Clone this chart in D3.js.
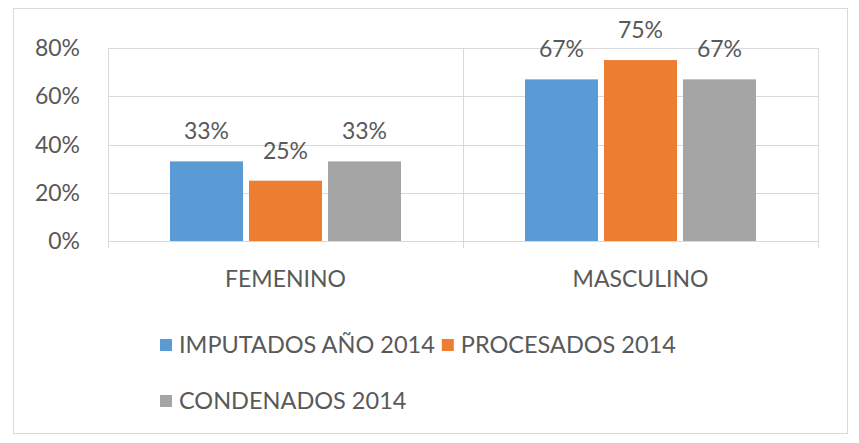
<!DOCTYPE html>
<html>
<head>
<meta charset="utf-8">
<script src="https://cdn.jsdelivr.net/npm/d3@7"></script>
<style>
  body { margin: 0; background: #fff; }
  text { font-family: Lato, "Open Sans", sans-serif; fill: #595959; }
</style>
</head>
<body>
<div id="chart"></div>
<script>
var categories = ["FEMENINO", "MASCULINO"];
var seriesNames = ["IMPUTADOS AÑO 2014", "PROCESADOS 2014", "CONDENADOS 2014"];
var imputados = [33, 67];
var procesados = [25, 75];
var condenados = [33, 67];
var yTicks = [0, 20, 40, 60, 80];
var colors = ["#5b9bd5", "#ed7d31", "#a5a5a5"];

var seriesValues = [imputados, procesados, condenados];

var width = 859, height = 443;
var fontSize = 23;

var svg = d3.select("#chart")
  .append("svg")
    .attr("width", width)
    .attr("height", height);

// outer frame
svg.append("rect")
  .attr("x", 13.5).attr("y", 8.5)
  .attr("width", 834).attr("height", 425)
  .attr("fill", "#fff")
  .attr("stroke", "#d9d9d9");

var x0 = d3.scaleBand().domain(categories).range([108, 818]);
var groupWidth = 231;
var x1 = d3.scaleBand().domain(seriesNames).range([0, groupWidth]).paddingInner(0.076);
var y = d3.scaleLinear().domain([0, 80]).range([241, 48]);

// horizontal grid
svg.selectAll(".hgrid")
  .data(yTicks)
  .enter().append("line")
    .attr("x1", 108).attr("x2", 818)
    .attr("y1", function(d){ return Math.round(y(d)) + 0.5; })
    .attr("y2", function(d){ return Math.round(y(d)) + 0.5; })
    .attr("stroke", "#d9d9d9");

// vertical grid at category borders
var borders = categories.map(function(c){ return x0(c); }).concat([818]);
svg.selectAll(".vgrid")
  .data(borders)
  .enter().append("line")
    .attr("x1", function(d){ return Math.round(d) + 0.5; })
    .attr("x2", function(d){ return Math.round(d) + 0.5; })
    .attr("y1", y(80)).attr("y2", y(0) + 7)
    .attr("stroke", "#d9d9d9");

// y tick labels
svg.selectAll(".ytick")
  .data(yTicks)
  .enter().append("text")
    .attr("x", 80)
    .attr("y", function(d){ return y(d) + 8; })
    .attr("text-anchor", "end")
    .style("font-size", fontSize + "px")
    .text(function(d){ return d + "%"; });

// bars
var groups = svg.selectAll(".group")
  .data(categories)
  .enter().append("g")
    .attr("transform", function(c){ return "translate(" + (x0(c) + (x0.bandwidth() - groupWidth) / 2) + ",0)"; });

groups.selectAll("rect")
  .data(function(c, ci){ return seriesNames.map(function(s, si){ return {s: s, si: si, v: seriesValues[si][ci]}; }); })
  .enter().append("rect")
    .attr("x", function(d){ return x1(d.s); })
    .attr("y", function(d){ return y(d.v); })
    .attr("width", x1.bandwidth())
    .attr("height", function(d){ return y(0) - y(d.v); })
    .attr("fill", function(d){ return colors[d.si]; });

groups.selectAll(".lbl")
  .data(function(c, ci){ return seriesNames.map(function(s, si){ return {s: s, si: si, v: seriesValues[si][ci]}; }); })
  .enter().append("text")
    .attr("x", function(d){ return x1(d.s) + x1.bandwidth() / 2; })
    .attr("y", function(d){ return y(d.v) - 22; })
    .attr("text-anchor", "middle")
    .style("font-size", fontSize + "px")
    .text(function(d){ return d.v + "%"; });

// category labels
svg.selectAll(".cat")
  .data(categories)
  .enter().append("text")
    .attr("x", function(c){ return x0(c) + x0.bandwidth() / 2; })
    .attr("y", 287)
    .attr("text-anchor", "middle")
    .style("font-size", fontSize + "px")
    .text(function(c){ return c; });

// legend
var legendRows = [[0, 1], [2]];
var rowY = [345, 401];
legendRows.forEach(function(row, ri){
  var lx = 160;
  row.forEach(function(si){
    svg.append("rect")
      .attr("x", lx).attr("y", rowY[ri] - 6)
      .attr("width", 12).attr("height", 12)
      .attr("fill", colors[si]);
    var t = svg.append("text")
      .attr("x", lx + 19)
      .attr("y", rowY[ri] + 8)
      .style("font-size", "23.5px")
      .text(seriesNames[si]);
    lx = lx + 19 + t.node().getComputedTextLength() + 7;
  });
});
</script>
</body>
</html>
